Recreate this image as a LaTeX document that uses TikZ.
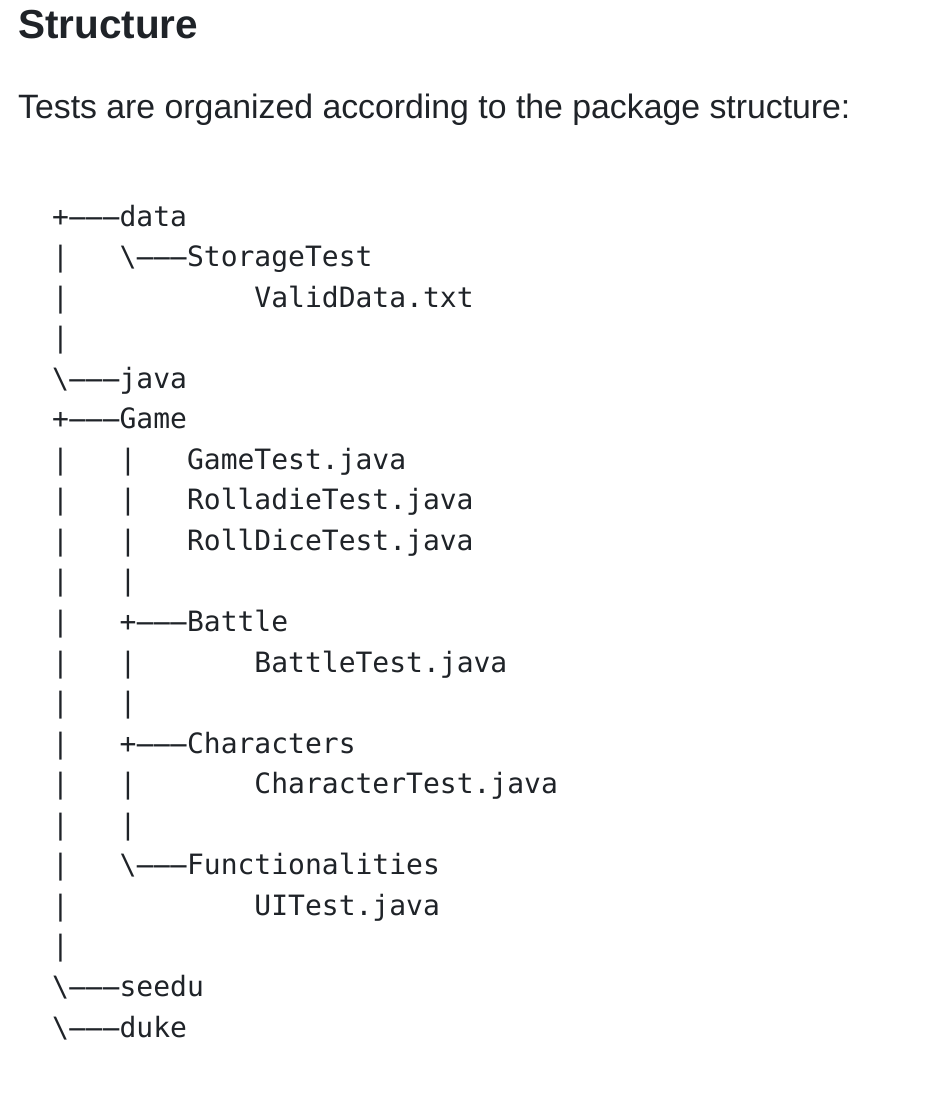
\documentclass[tikz,border=0pt]{standalone}
\usepackage{fontspec}
\usepackage{graphicx}
\setmainfont{Liberation Sans}
\setmonofont{DejaVu Sans Mono}
\definecolor{ink}{HTML}{1F2328}
\tikzset{
  codeline/.style={anchor=base west, inner sep=0pt, font=\fontsize{28}{28}\selectfont\ttfamily, text=ink},
  heading/.style={anchor=base west, inner sep=0pt, font=\fontsize{40.5}{40.5}\selectfont\bfseries, text=ink},
  para/.style={anchor=base west, inner sep=0pt, font=\fontsize{33.8}{33.8}\selectfont, text=ink}
}
\newcommand{\bs}{\textbackslash}
\newcommand{\hy}{\makebox[0.602em]{\scalebox{2.3}[1]{-}}}
\newcommand{\dsh}{\hy\hy\hy}
\begin{document}
\begin{tikzpicture}[x=1pt,y=1pt]
\useasboundingbox[fill=white] (0,0) rectangle (924,-1100);
\node[heading] (title) at (18,-38) {Structure};
\node[para] (intro) at (18,-118) {Tests are organized according to the package structure:};
\def\pitch{40.55}
\foreach \i/\t in {
 1/{+\dsh data},
 2/{|~~~\bs\dsh StorageTest},
 3/{|~~~~~~~~~~~ValidData.txt},
 4/{|},
 5/{\bs\dsh java},
 6/{+\dsh Game},
 7/{|~~~|~~~GameTest.java},
 8/{|~~~|~~~RolladieTest.java},
 9/{|~~~|~~~RollDiceTest.java},
 10/{|~~~|},
 11/{|~~~+\dsh Battle},
 12/{|~~~|~~~~~~~BattleTest.java},
 13/{|~~~|},
 14/{|~~~+\dsh Characters},
 15/{|~~~|~~~~~~~CharacterTest.java},
 16/{|~~~|},
 17/{|~~~\bs\dsh Functionalities},
 18/{|~~~~~~~~~~~UITest.java},
 19/{|},
 20/{\bs\dsh seedu},
 21/{\bs\dsh duke}}{
  \node[codeline] (line\i) at (52,{-226-(\i-1)*\pitch}) {\t};
}
\end{tikzpicture}
\end{document}
